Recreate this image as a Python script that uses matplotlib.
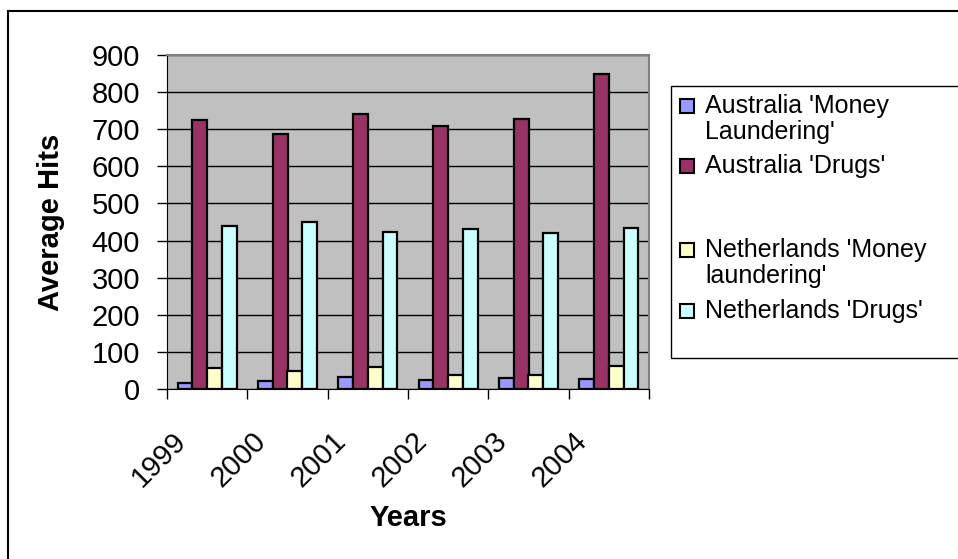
import matplotlib
matplotlib.use("Agg")
import matplotlib.pyplot as plt
import matplotlib.transforms as mtransforms
from matplotlib.patches import Rectangle
import numpy as np

plt.rcParams['font.family'] = ['Liberation Sans', 'DejaVu Sans']

years = ['1999', '2000', '2001', '2002', '2003', '2004']
series_names = ["Australia 'Money\nLaundering'", "Australia 'Drugs'",
                "Netherlands 'Money\nlaundering'", "Netherlands 'Drugs'"]
aus_money = [15, 22, 33, 24, 30, 28]
aus_drugs = [725, 688, 740, 709, 728, 850]
nl_money = [57, 49, 59, 38, 39, 63]
nl_drugs = [439, 451, 424, 430, 421, 433]
colors = ['#9999FF', '#993366', '#FFFFCC', '#CCFFFF']

W, H = 958, 559
fig = plt.figure(figsize=(W / 100, H / 100), dpi=100)


def px(x, y):
    # pixel position (from top left) -> figure fraction
    return x / W, 1 - y / H


# outer chart frame
fig.patches.append(Rectangle(px(8, 600), 1.2, (600 - 11) / H, transform=fig.transFigure,
                             fill=False, edgecolor='black', linewidth=1.5))

ax = fig.add_axes([167 / W, 1 - 389 / H, (649 - 167) / W, (389 - 55) / H])
ax.set_facecolor('#C0C0C0')

x = np.arange(len(years))
bw = 0.183
for i, vals in enumerate([aus_money, aus_drugs, nl_money, nl_drugs]):
    ax.bar(x + (i - 1.5) * bw, vals, bw, color=colors[i], edgecolor='black',
           linewidth=1.6, zorder=3)

ax.set_xlim(-0.5, len(years) - 0.5)
ax.set_ylim(0, 900)
ax.set_yticks(range(0, 901, 100))
ax.yaxis.grid(True, color='black', linewidth=1)
ax.set_axisbelow(True)
ax.tick_params(axis='y', direction='out', length=7.5, width=1, pad=12, labelsize=21)

ax.set_xticks(x)
ax.set_xticklabels(years, rotation=45, ha='right', va='top', fontsize=21)
ax.set_xticks(np.arange(-0.5, len(years)), minor=True)
ax.tick_params(axis='x', which='major', length=0, pad=27)
ax.tick_params(axis='x', which='minor', direction='out', length=7.5, width=1)
off = mtransforms.ScaledTranslation(-16 / 100, 0, fig.dpi_scale_trans)
for lab in ax.get_xticklabels():
    lab.set_transform(lab.get_transform() + off)

for s in ['top', 'right']:
    ax.spines[s].set_color('#808080')
    ax.spines[s].set_linewidth(1.5)
ax.spines['left'].set_color('black')
ax.spines['bottom'].set_color('black')

ax.set_ylabel('Average Hits', fontsize=21, fontweight='bold')
ax.yaxis.set_label_coords(-0.2116, 0.5)
ax.set_xlabel('Years', fontsize=21, fontweight='bold')
ax.xaxis.set_label_coords(0.5, -0.345)

# legend box, drawn by hand to keep the uneven spacing of the original
fig.patches.append(Rectangle(px(671, 358), 0.5, (358 - 86) / H, transform=fig.transFigure,
                             fill=False, edgecolor='black', linewidth=1))
legend_rows = [106, 166, 250, 311]
for name, col, yy in zip(series_names, colors, legend_rows):
    fig.patches.append(Rectangle(px(680, yy + 7), 14 / W, 14 / H, transform=fig.transFigure,
                                 facecolor=col, edgecolor='black', linewidth=1.5))
    lines = name.split('\n')
    for k, line in enumerate(lines):
        fig.text(*px(705, yy + k * 26), line, fontsize=18, ha='left', va='center')

fig.savefig('out.png', dpi=100)
